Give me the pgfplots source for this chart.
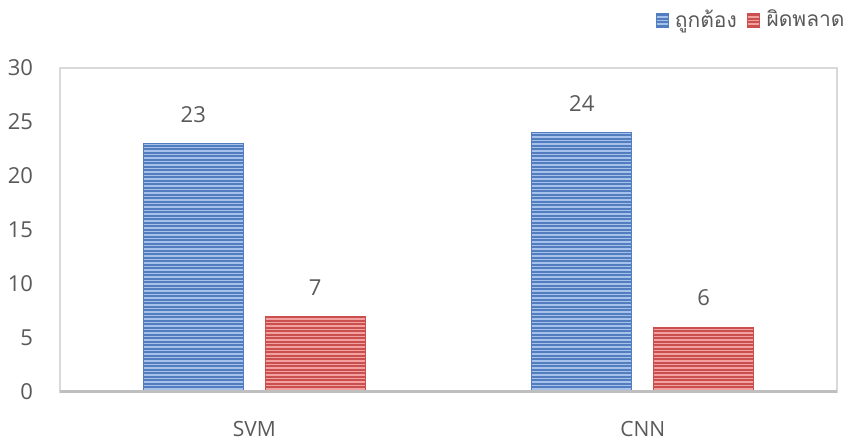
\documentclass[border=0pt]{standalone}
\usepackage{pgfplots}
\pgfplotsset{compat=1.18}
\usepackage{fontspec}
\setmainfont{Open Sans}
\newfontfamily\thaifont[Script=Thai]{Loma}

\definecolor{txtgray}{RGB}{89,89,89}
\definecolor{framegray}{RGB}{217,217,217}
\definecolor{basegray}{RGB}{191,191,191}
\definecolor{blueLight}{RGB}{166,194,234}
\definecolor{blueDark}{RGB}{82,126,192}
\definecolor{redLight}{RGB}{242,160,160}
\definecolor{redDark}{RGB}{202,80,80}

% horizontal stripes stroked as continuous lines clipped to each bar
\newcommand\barstripes[1]{%
  \pgfsetcolor{#1}\pgfsetlinewidth{0.85pt}%
  \foreach \s in {0.6,2.35,...,200}{%
    \pgfpathmoveto{\pgfpointadd{\pgfpointanchor{path picture bounding box}{south west}}{\pgfpoint{0pt}{\s pt}}}%
    \pgfpathlineto{\pgfpointadd{\pgfpointanchor{path picture bounding box}{south east}}{\pgfpoint{0pt}{\s pt}}}%
    \pgfusepath{stroke}%
  }%
}
\tikzset{
  stripeBlue/.style={fill=blueLight, draw=blueDark, line width=0.4pt,
    path picture={\barstripes{blueDark}}},
  stripeRed/.style={fill=redLight, draw=redDark, line width=0.4pt,
    path picture={\barstripes{redDark}}},
}

\begin{document}
\begin{tikzpicture}
\begin{axis}[
  name=main,
  scale only axis,
  width=388.5pt, height=162pt,
  ybar=11pt, bar width=50pt,
  xmin=-0.5, xmax=1.5,
  ymin=0, ymax=30,
  xtick={0,1}, xticklabels={SVM,CNN},
  ytick={0,5,...,30},
  major tick length=0pt,
  axis line style={framegray, line width=0.6pt},
  tick label style={font=\fontsize{11}{13}\selectfont, text=txtgray},
  /pgf/number format/assume math mode=true,
  xticklabel style={font=\fontsize{10.5}{13}\selectfont, yshift=-11pt},
  yticklabel style={xshift=-10pt},
  nodes near coords,
  every node near coord/.append style={font=\fontsize{11}{13}\selectfont, text=txtgray, yshift=7pt},
  legend style={at={([xshift=9pt,yshift=24pt]current axis.north east)}, anchor=east,
    draw=none, fill=none, legend columns=-1,
    font=\thaifont\fontsize{10.5}{12}\selectfont, text=txtgray,
    /tikz/every odd column/.append style={column sep=1pt},
    /tikz/every even column/.append style={column sep=3pt}},
  legend image code/.code={\draw[#1] (0pt,-3.5pt) rectangle (6pt,3.5pt);},
]
\addplot[stripeBlue] coordinates {(0,23) (1,24)};
\addplot[stripeRed] coordinates {(0,7) (1,6)};
\legend{ถูกต้อง,ผิดพลาด}
\draw[basegray, line width=2.2pt] (axis cs:-0.5,0) -- (axis cs:1.5,0);
\end{axis}
\pgfresetboundingbox
\path (main.south west) ++(-30pt,-23.5pt) rectangle ++(424.5pt,219.5pt);
\end{tikzpicture}
\end{document}
